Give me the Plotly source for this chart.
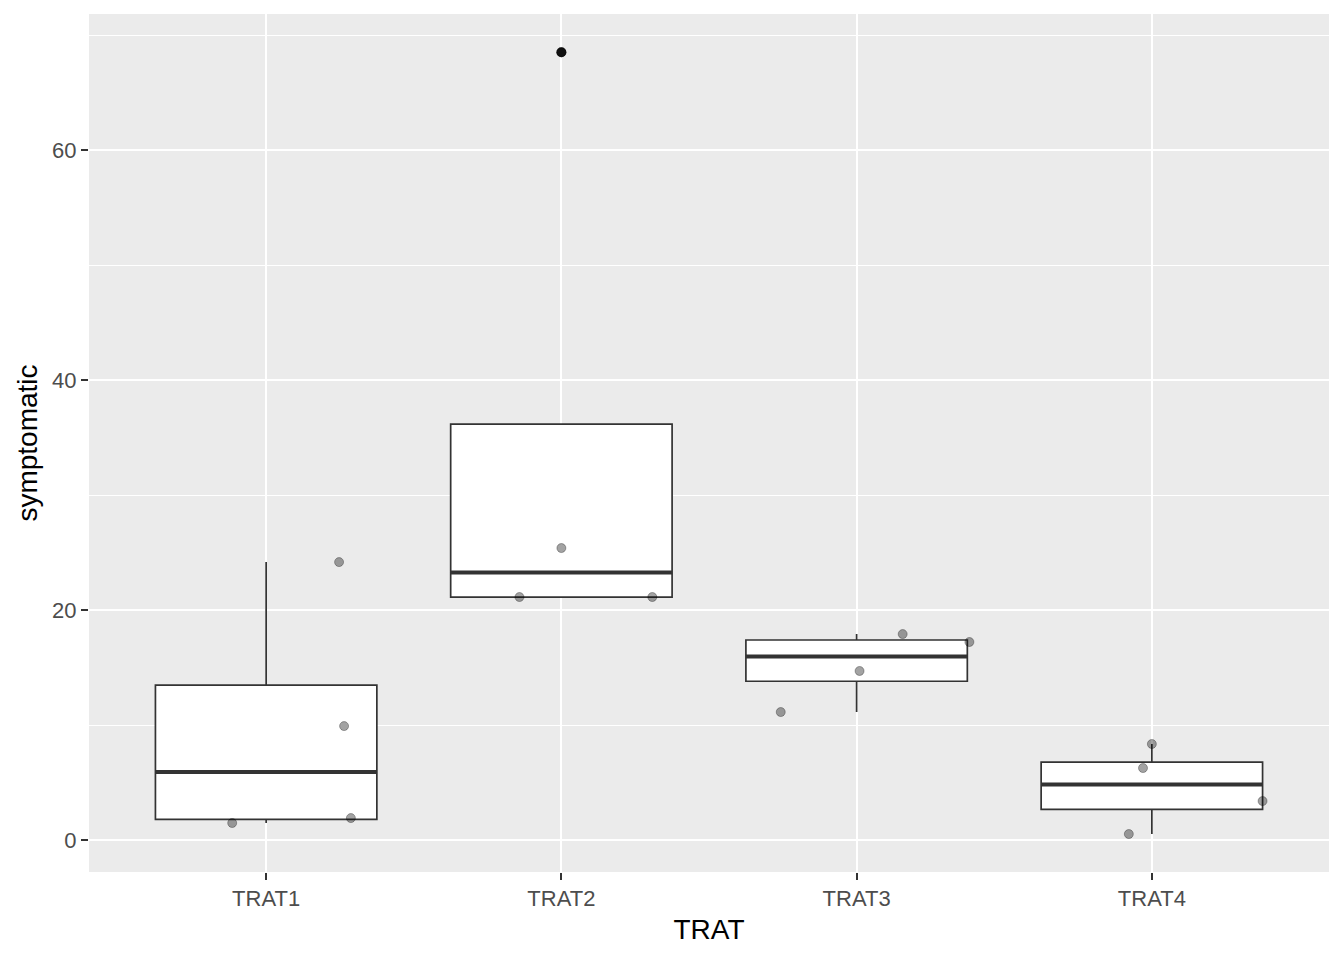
import numpy as np
import plotly.graph_objects as go

# values (symptomatic per treatment)
trats = ["TRAT1", "TRAT2", "TRAT3", "TRAT4"]
trat1 = [1.48, 24.17, 9.91, 1.91]
trat2 = [21.13, 25.39, 21.13, 68.5]
trat3 = [11.13, 14.70, 17.91, 17.22]
trat4 = [0.52, 6.26, 8.35, 3.39]
# horizontal jitter offsets of the points as seen in the picture
jit1 = [-0.115, 0.247, 0.264, 0.287]
jit2 = [-0.142, 0.0, 0.308, 0.0]
jit3 = [-0.257, 0.01, 0.156, 0.382]
jit4 = [-0.078, -0.03, 0.0, 0.375]

groups = [trat1, trat2, trat3, trat4]
jitters = [jit1, jit2, jit3, jit4]
pos = list(range(len(trats)))
bw = 0.75

# ggplot-style box stats (type 7 quantiles, 1.5 IQR whiskers)
q1s, meds, q3s, los, his = [], [], [], [], []
out_x, out_y = [], []
for p, vals in zip(pos, groups):
    v = np.array(vals)
    q1, med, q3 = np.percentile(v, [25, 50, 75])
    iqr = q3 - q1
    inside = v[(v >= q1 - 1.5 * iqr) & (v <= q3 + 1.5 * iqr)]
    lo, hi = inside.min(), inside.max()
    q1s.append(q1); meds.append(med); q3s.append(q3)
    los.append(min(lo, q1)); his.append(max(hi, q3))
    for o in v[(v < q1 - 1.5 * iqr) | (v > q3 + 1.5 * iqr)]:
        out_x.append(p); out_y.append(o)

fig = go.Figure()
fig.add_trace(go.Box(x=pos, q1=q1s, median=meds, q3=q3s, lowerfence=los, upperfence=his,
                     width=bw, fillcolor="white", line=dict(color="#333333", width=1.7),
                     whiskerwidth=0, boxpoints=False, showlegend=False, hoverinfo="skip"))

# thick median lines
mx, my = [], []
for p, m in zip(pos, meds):
    mx += [p - bw / 2, p + bw / 2, None]
    my += [m, m, None]
fig.add_trace(go.Scatter(x=mx, y=my, mode="lines", line=dict(color="#333333", width=4),
                         showlegend=False, hoverinfo="skip"))

# outliers
fig.add_trace(go.Scatter(x=out_x, y=out_y, mode="markers",
                         marker=dict(color="#1A1A1A", size=10), showlegend=False))

# jittered points
px_, py_ = [], []
for p, vals, jit in zip(pos, groups, jitters):
    for v, j in zip(vals, jit):
        px_.append(p + j); py_.append(v)
fig.add_trace(go.Scatter(x=px_, y=py_, mode="markers",
                         marker=dict(color="rgba(0,0,0,0.36)", size=9,
                                     line=dict(color="rgba(0,0,0,0.3)", width=1)),
                         showlegend=False))

# page has an 8px body margin, so the figure is a bit smaller and margins shifted
fig.update_layout(
    width=1336, height=952,
    margin=dict(l=81, r=15, t=6, b=88),
    plot_bgcolor="#EBEBEB", paper_bgcolor="white",
    font=dict(family="Liberation Sans, Arial, sans-serif"),
)
fig.update_xaxes(
    range=[-0.6, 3.6], tickvals=pos, ticktext=trats,
    showgrid=True, gridcolor="white", gridwidth=2, zeroline=False,
    ticks="outside", ticklen=7, tickwidth=1.6, tickcolor="#333333",
    tickfont=dict(size=22, color="#4D4D4D"),
    title=dict(text="TRAT", font=dict(size=28, color="black"), standoff=8),
)
fig.update_yaxes(
    range=[-2.78, 71.83], tickvals=[0, 20, 40, 60],
    showgrid=True, gridcolor="white", gridwidth=2, zeroline=False,
    minor=dict(tickvals=[10, 30, 50, 70], showgrid=True, gridcolor="white", gridwidth=1, ticks=""),
    ticks="outside", ticklen=7, tickwidth=1.6, tickcolor="#333333",
    tickfont=dict(size=22, color="#4D4D4D"),
    title=dict(text="symptomatic", font=dict(size=28, color="black"), standoff=6),
)

fig.write_html("out.html")
